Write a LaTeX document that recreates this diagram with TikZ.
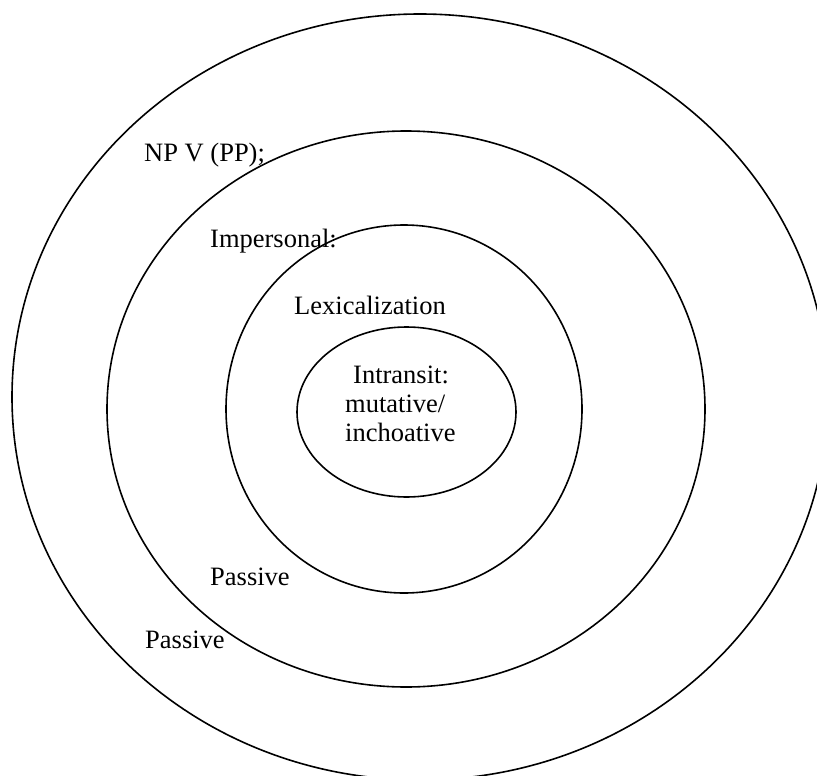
\documentclass[tikz,border=0pt]{standalone}
\usepackage{fontspec}
\setmainfont{Liberation Serif}
\begin{document}
\begin{tikzpicture}[x=1pt,y=-1pt,
  ring/.style={draw=black,line width=1.6pt},
  lbl/.style={anchor=base west,inner sep=0pt,font=\fontsize{26.5}{30}\selectfont}]
\useasboundingbox (0,0) rectangle (817,776);
\begin{scope}
\clip (0,0) rectangle (817,776);
\draw[ring] (420,397) ellipse [x radius=408, y radius=383];
\end{scope}
\draw[ring] (406,409) ellipse [x radius=299, y radius=278];
\draw[ring] (404,409) ellipse [x radius=178, y radius=184];
\draw[ring] (406.5,412) ellipse [x radius=109.5, y radius=85];
\node[lbl] (np) at (144,161) {NP V (PP);};
\node[lbl] (imp) at (210,247) {Impersonal:};
\node[lbl] (lex) at (294,314) {Lexicalization};
\node[lbl] (in1) at (353,383) {Intransit:};
\node[lbl] (in2) at (345,412) {mutative/};
\node[lbl] (in3) at (345,441) {inchoative};
\node[lbl] (p1) at (210,585) {Passive};
\node[lbl] (p2) at (145,648) {Passive};
\end{tikzpicture}
\end{document}
